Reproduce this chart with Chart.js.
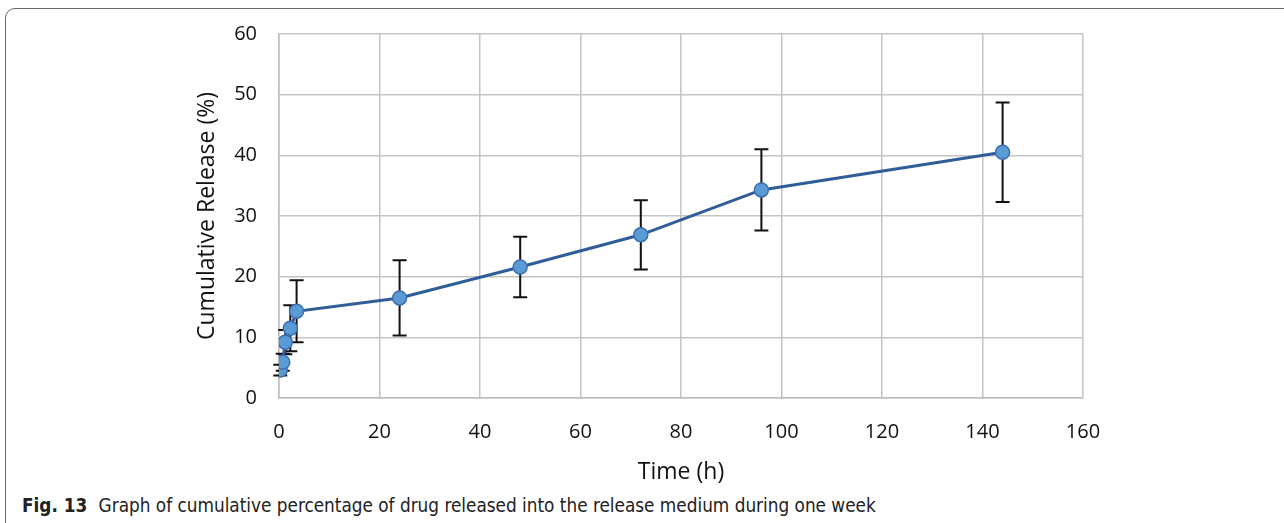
<!DOCTYPE html>
<html>
<head>
<meta charset="utf-8">
<script src="https://cdn.jsdelivr.net/npm/chart.js@4/dist/chart.umd.min.js"></script>
<style>
  html, body { margin: 0; padding: 0; background: #fff; }
  body { width: 1284px; height: 523px; position: relative; overflow: hidden; }
  .frame {
    position: absolute; left: 5px; top: 8px; width: 1300px; height: 540px;
    border: 1.5px solid #666; border-radius: 10px; box-sizing: border-box;
  }
  .chart-box { position: absolute; left: 0; top: 0; width: 1284px; height: 490px; }
  .caption {
    position: absolute; left: 22px; top: 495px;
    font-family: "Liberation Sans Narrow", "DejaVu Sans Condensed", sans-serif;
    font-size: 18.8px; color: #222; white-space: nowrap;
  }
  .caption b { font-weight: bold; margin-right: 6px; }
</style>
</head>
<body>
<div class="frame"></div>
<div class="chart-box"><canvas id="release-chart"></canvas></div>
<div class="caption"><b>Fig. 13</b> Graph of cumulative percentage of drug released into the release medium during one week</div>

<script>
// 累积释放数据
const TIMES = [0.25, 0.75, 1.25, 2.25, 3.5, 24, 48, 72, 96, 144];
const RELEASE = [4.6, 5.9, 9.2, 11.5, 14.3, 16.5, 21.6, 26.9, 34.3, 40.5];
const ERRORS = [0.9, 1.4, 2.0, 3.8, 5.1, 6.2, 5.0, 5.7, 6.7, 8.2];
const X_TICKS = [0, 20, 40, 60, 80, 100, 120, 140, 160];
const Y_TICKS = [0, 10, 20, 30, 40, 50, 60];

const FONT = "'Open Sans', 'Noto Sans', sans-serif";

// 误差棒（画在点下面）
const errorBars = {
  id: 'errorBars',
  beforeDatasetsDraw(chart) {
    const { ctx, scales: { x, y } } = chart;
    ctx.save();
    ctx.strokeStyle = '#111';
    ctx.lineWidth = 2;
    TIMES.forEach((t, i) => {
      const px = x.getPixelForValue(t);
      const top = y.getPixelForValue(RELEASE[i] + ERRORS[i]);
      const bot = y.getPixelForValue(RELEASE[i] - ERRORS[i]);
      ctx.beginPath();
      ctx.moveTo(px, top); ctx.lineTo(px, bot);
      ctx.moveTo(px - 7, top); ctx.lineTo(px + 7, top);
      ctx.moveTo(px - 7, bot); ctx.lineTo(px + 7, bot);
      ctx.stroke();
    });
    ctx.restore();
  }
};

new Chart(document.getElementById('release-chart'), {
  type: 'scatter',
  data: {
    datasets: [{
      data: TIMES.map((t, i) => ({ x: t, y: RELEASE[i] })),
      showLine: true,
      borderColor: '#2f5d98',
      borderWidth: 3,
      tension: 0,
      pointRadius: 7,
      pointBackgroundColor: '#5b9bd5',
      pointBorderColor: '#3d6fae',
      pointBorderWidth: 1.5
    }]
  },
  options: {
    responsive: true,
    maintainAspectRatio: false,
    animation: false,
    layout: { padding: { left: 190, right: 201, top: 34, bottom: 0 } },
    plugins: { legend: { display: false }, tooltip: { enabled: false } },
    scales: {
      x: {
        type: 'linear', min: 0, max: 160,
        afterBuildTicks: s => { s.ticks = X_TICKS.map(v => ({ value: v })); },
        afterFit: s => { s.height = 92; },
        grid: { color: '#c4c4c4', lineWidth: 1.5, drawTicks: false },
        border: { color: '#bdbdbd', width: 1.5 },
        ticks: { padding: 22, color: '#111', font: { family: FONT, size: 20 } },
        title: { display: true, text: 'Time (h)', color: '#111', font: { family: FONT, size: 23 } }
      },
      y: {
        type: 'linear', min: 0, max: 60,
        afterBuildTicks: s => { s.ticks = Y_TICKS.map(v => ({ value: v })); },
        afterFit: s => { s.width = 89; },
        grid: { color: '#c4c4c4', lineWidth: 1.5, drawTicks: false },
        border: { color: '#bdbdbd', width: 1.5 },
        ticks: { padding: 22, color: '#111', font: { family: FONT, size: 20 } },
        title: { display: true, text: 'Cumulative Release (%)', color: '#111', font: { family: FONT, size: 23 } }
      }
    }
  },
  plugins: [errorBars]
});
</script>
</body>
</html>
